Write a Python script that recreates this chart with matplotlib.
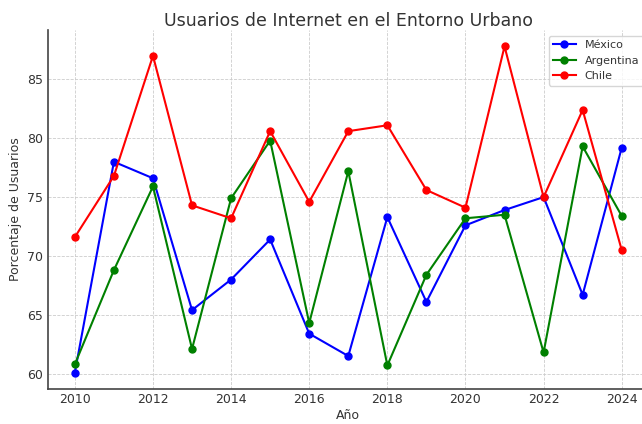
import matplotlib.pyplot as plt

# Data
years = list(range(2010, 2025))
mexico = [60.1, 78.0, 76.6, 65.4, 68.0, 71.4, 63.4, 61.5, 73.3, 66.1, 72.6, 73.9, 75.0, 66.7, 79.2]
argentina = [60.8, 68.8, 75.9, 62.1, 74.9, 79.8, 64.3, 77.2, 60.7, 68.4, 73.2, 73.5, 61.8, 79.3, 73.4]
chile = [71.6, 76.8, 87.0, 74.3, 73.2, 80.6, 74.6, 80.6, 81.1, 75.6, 74.1, 87.8, 75.0, 82.4, 70.5]

text_color = '#333333'

fig = plt.figure(figsize=(6.42, 4.24), dpi=100)
ax = fig.add_axes([0.074, 0.083, 0.937, 0.846])

ax.plot(years, mexico, marker='o', markersize=5, color='blue', label='México')
ax.plot(years, argentina, marker='o', markersize=5, color='green', label='Argentina')
ax.plot(years, chile, marker='o', markersize=5, color='red', label='Chile')

ax.set_title('Usuarios de Internet en el Entorno Urbano', fontsize=12.5, color=text_color, pad=3)
ax.set_xlabel('Año', fontsize=9, color=text_color, labelpad=2)
ax.set_ylabel('Porcentaje de Usuarios', fontsize=9, color=text_color, labelpad=4)
ax.set_xticks(range(2010, 2025, 2))
ax.tick_params(length=0, labelsize=9, labelcolor=text_color, pad=3)
ax.grid(True, linestyle='--', linewidth=0.6, color='#cccccc')
for s in ['top', 'right']:
    ax.spines[s].set_visible(False)
for s in ['left', 'bottom']:
    ax.spines[s].set_color('#444444')
    ax.spines[s].set_linewidth(1.2)
ax.legend(loc='upper right', fontsize=8, labelcolor=text_color)

plt.savefig('out.png', dpi=100)
